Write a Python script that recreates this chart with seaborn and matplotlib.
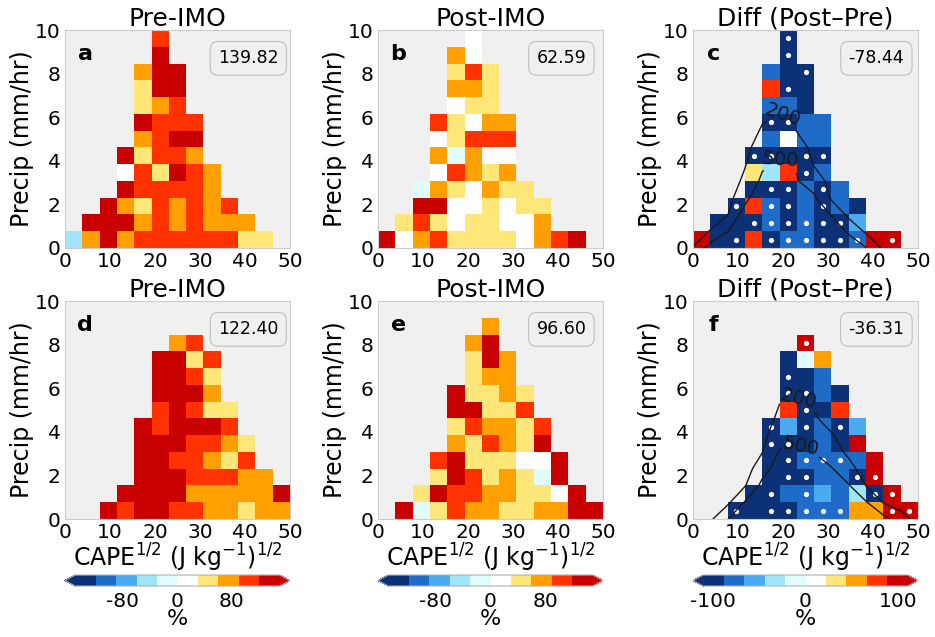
import numpy as np
import pandas as pd
import seaborn as sns
import matplotlib.pyplot as plt
from matplotlib.colors import ListedColormap, BoundaryNorm

sns.set_theme(style='white')
plt.rcParams['font.family'] = ['DejaVu Sans']
plt.rcParams['axes.unicode_minus'] = False
for k in ['text.color', 'axes.labelcolor', 'xtick.color', 'ytick.color']:
    plt.rcParams[k] = 'black'

# 13 x 13 bins: CAPE^1/2 (0-50) by precip (0-10)
x_edges = np.linspace(0, 50, 14)
y_edges = np.linspace(0, 10, 14)

titles = ['Pre-IMO', 'Post-IMO', 'Diff (Post\u2013Pre)']
letters = ['a', 'b', 'c', 'd', 'e', 'f']
box_values = [139.82, 62.59, -78.44, 122.40, 96.60, -36.31]

colors = ['#0d3177', '#1f6cc8', '#4aabf0', '#a0e6fa', '#e0fcff',
          '#ffffff', '#ffe678', '#ffa000', '#ff3200', '#c80000']
codes = 'DBLCPWYORK'
levels_abs = np.arange(-150, 151, 30)      # panels a b d e
levels_diff = np.linspace(-110, 110, 11)   # panels c f
# representative % value for each colour class (bin middle)
pct_abs = dict(zip(codes, [-135, -105, -75, -45, -15, 15, 45, 75, 105, 135]))
pct_diff = dict(zip(codes, [-99, -77, -55, -33, -11, 11, 33, 55, 77, 99]))

# grids, top row first, '.' = empty
grid_a = ['.....R.......',
          '.....K.......',
          '....OKK......',
          '....YKK......',
          '....YOR......',
          '....KRRR.....',
          '....ORKK.....',
          '...KYRRO.....',
          '...WRYKRO....',
          '...KRRRRO....',
          '..KOYROROR...',
          '.KKKOROROOO..',
          'COKORRRRRRYY.']
grid_b = ['.....W.......',
          '....OW.......',
          '....YRY......',
          '....OOY......',
          '....WYY......',
          '...RYWOO.....',
          '...WYRRR.....',
          '...OPOWW.....',
          '...WROYO.....',
          '..POYWOYY....',
          '..KKWWYWYY...',
          '.YRYWYYWWO...',
          'KWORYYYYWORK.']
grid_c = ['.....D.......',
          '.....D.......',
          '....BDD......',
          '....RDD......',
          '....BBD......',
          '....DDBB.....',
          '....BWBB.....',
          '...DDDDD.....',
          '...YCRDB.....',
          '...DDDBDB....',
          '..DRBDBDBD...',
          '.DDDBDBDDL...',
          'KDDRDBBDDBKK.']
grid_d = ['.............',
          '.............',
          '......OR.....',
          '.....KKYR....',
          '.....KKRY....',
          '.....KKKO....',
          '.....RKRYY...',
          '....KRKKKR...',
          '....KKKRROY..',
          '....KKRROYR..',
          '....KKKRRROO.',
          '...KKKKOOOOOK',
          '..KRKKRROOYOO']
grid_e = ['.............',
          '......O......',
          '.....OK......',
          '.....YKO.....',
          '.....YOO.....',
          '....KYYOY....',
          '....KKYYR....',
          '....YROOYR...',
          '....OYROYK...',
          '...RKYYYWWK..',
          '...YKRYOYPK..',
          '..YKRROOYYWK.',
          '.KPYROOYYOOKK']
grid_f = ['.............',
          '.............',
          '......K......',
          '.....DPO.....',
          '.....DDB.....',
          '.....DDBD....',
          '.....RDDR....',
          '....DLDBDL...',
          '....DDDBDK...',
          '....DDBBBBK..',
          '....DDDBBDK..',
          '...DDBBLBCDK.',
          '..DDDDBBBOOKK']

# significance stippling for the difference panels
dots_c = ['.....*.......',
          '.....*.......',
          '......*......',
          '.....*.......',
          '.............',
          '....**.......',
          '.............',
          '...**.**.....',
          '......*......',
          '....**.*.....',
          '..*.**.*.....',
          '...******....',
          '..*.******.*.']
dots_f = ['.............',
          '.............',
          '......*......',
          '.............',
          '.....*.......',
          '.....**......',
          '......*......',
          '....*.*.*....',
          '....**.......',
          '.....****....',
          '.....**..**..',
          '....*.*...**.',
          '..*.*****..**']

# sample counts at the bin corners (bottom row first), for the 200/500 contours
counts_c = [[210, 640, 900, 1100, 1300, 1400, 1300, 1100, 900, 700, 510, 150, 50, 0],
            [100, 210, 490, 800, 1000, 1100, 1000, 850, 700, 450, 150, 60, 20, 0],
            [30, 80, 190, 650, 850, 950, 850, 700, 480, 120, 40, 10, 0, 0],
            [10, 30, 100, 400, 750, 850, 750, 550, 150, 40, 10, 0, 0, 0],
            [0, 10, 40, 260, 560, 650, 520, 330, 120, 30, 10, 0, 0, 0],
            [0, 0, 20, 180, 450, 540, 470, 180, 60, 20, 0, 0, 0, 0],
            [0, 0, 10, 120, 340, 400, 330, 120, 40, 10, 0, 0, 0, 0],
            [0, 0, 0, 60, 230, 300, 190, 80, 20, 0, 0, 0, 0, 0],
            [0, 0, 0, 20, 150, 210, 120, 40, 0, 0, 0, 0, 0, 0],
            [0, 0, 0, 0, 60, 100, 50, 10, 0, 0, 0, 0, 0, 0],
            [0, 0, 0, 0, 20, 40, 20, 0, 0, 0, 0, 0, 0, 0],
            [0, 0, 0, 0, 0, 10, 0, 0, 0, 0, 0, 0, 0, 0],
            [0] * 14,
            [0] * 14]
counts_f = [[0, 150, 490, 800, 1000, 1150, 1200, 1150, 1000, 850, 700, 600, 330, 100],
            [0, 60, 140, 520, 800, 950, 1000, 950, 800, 650, 520, 180, 60, 10],
            [0, 20, 60, 180, 580, 800, 850, 800, 650, 520, 190, 50, 10, 0],
            [0, 0, 20, 60, 380, 650, 700, 640, 520, 300, 60, 10, 0, 0],
            [0, 0, 0, 30, 190, 520, 560, 490, 330, 140, 20, 0, 0, 0],
            [0, 0, 0, 10, 120, 380, 420, 360, 220, 80, 10, 0, 0, 0],
            [0, 0, 0, 0, 60, 260, 300, 230, 100, 20, 0, 0, 0, 0],
            [0, 0, 0, 0, 20, 190, 230, 160, 40, 0, 0, 0, 0, 0],
            [0, 0, 0, 0, 10, 80, 100, 60, 10, 0, 0, 0, 0, 0],
            [0, 0, 0, 0, 0, 20, 30, 10, 0, 0, 0, 0, 0, 0],
            [0] * 14,
            [0] * 14,
            [0] * 14,
            [0] * 14]
label_pos_c = [(19.4, 6.0), (19.4, 4.0)]
label_pos_f = [(23.5, 5.5), (23.5, 3.1)]


def to_array(rows, lut):
    out = np.full((13, 13), np.nan)
    for r, line in enumerate(rows[::-1]):
        for c, ch in enumerate(line):
            if ch in lut:
                out[r, c] = lut[ch]
    return np.ma.masked_invalid(out)


def dot_frame(rows):
    xc = (x_edges[:-1] + x_edges[1:]) / 2
    yc = (y_edges[:-1] + y_edges[1:]) / 2
    pts = [(xc[c], yc[r]) for r, line in enumerate(rows[::-1])
           for c, ch in enumerate(line) if ch == '*']
    return pd.DataFrame(pts, columns=['cape', 'precip'])


cmap = ListedColormap(colors)
cmap.set_under(colors[0])
cmap.set_over(colors[-1])
norm_abs = BoundaryNorm(levels_abs, 10)
norm_diff = BoundaryNorm(levels_diff, 10)

panels = [(grid_a, pct_abs, norm_abs, None, None, None),
          (grid_b, pct_abs, norm_abs, None, None, None),
          (grid_c, pct_diff, norm_diff, dots_c, counts_c, label_pos_c),
          (grid_d, pct_abs, norm_abs, None, None, None),
          (grid_e, pct_abs, norm_abs, None, None, None),
          (grid_f, pct_diff, norm_diff, dots_f, counts_f, label_pos_f)]

fig = plt.figure(figsize=(9.35, 6.37), dpi=100)
lefts = [0.0695, 0.4043, 0.7412]
bottoms = [0.6107, 0.1852]
w, h = 0.2406, 0.3422

for i, (grid, lut, norm, dots, counts, lpos) in enumerate(panels):
    row, col = divmod(i, 3)
    ax = fig.add_axes([lefts[col], bottoms[row], w, h])
    ax.set_facecolor('#f0f0f0')
    mesh = ax.pcolormesh(x_edges, y_edges, to_array(grid, lut), cmap=cmap, norm=norm)
    if dots is not None:
        sns.scatterplot(data=dot_frame(dots), x='cape', y='precip', ax=ax,
                        color='white', s=14, linewidth=0, legend=False)
        cs = ax.contour(x_edges, y_edges, np.array(counts), levels=[200, 500],
                        colors='k', linewidths=1)
        ax.clabel(cs, fmt='%d', fontsize=14, inline=True, inline_spacing=2,
                  manual=lpos)
    ax.set_xlim(0, 50)
    ax.set_ylim(0, 10)
    ax.set_xticks(range(0, 51, 10))
    ax.set_yticks(range(0, 11, 2))
    ax.tick_params(axis='x', length=0, labelsize=14.5, pad=3)
    ax.tick_params(axis='y', length=0, labelsize=14.5, pad=3)
    for s in ax.spines.values():
        s.set_color('#cccccc')
        s.set_linewidth(0.8)
    ax.set_title(titles[col], fontsize=18, pad=3)
    ax.set_ylabel('Precip (mm/hr)', fontsize=17, labelpad=1)
    if row == 1:
        ax.set_xlabel('CAPE$^{1/2}$ (J kg$^{-1}$)$^{1/2}$', fontsize=17, labelpad=0)
    else:
        ax.set_xlabel('')
    ax.text(0.09, 0.862, letters[i], transform=ax.transAxes, fontsize=16,
            fontweight='bold', ha='center', va='baseline')
    ax.text(0.815, 0.87, '%.2f' % box_values[i], transform=ax.transAxes,
            fontsize=12.5, ha='center', va='center',
            bbox=dict(boxstyle='round,pad=0.45', fc='#f0f0f0', ec='#c0c0c0', lw=0.8))

    if row == 1:
        cax = fig.add_axes([lefts[col], 0.0800, w, 0.0173])
        ticks = [-100, 0, 100] if col == 2 else [-80, 0, 80]
        cb = fig.colorbar(mesh, cax=cax, orientation='horizontal', extend='both',
                          ticks=ticks)
        cb.minorticks_off()
        cb.outline.set_edgecolor('#b0b0b0')
        cb.outline.set_linewidth(0.8)
        cax.tick_params(which='both', length=0, labelsize=14.5, pad=4)
        cb.set_label('%', fontsize=16, labelpad=-1)

fig.savefig('out.png', dpi=100)
